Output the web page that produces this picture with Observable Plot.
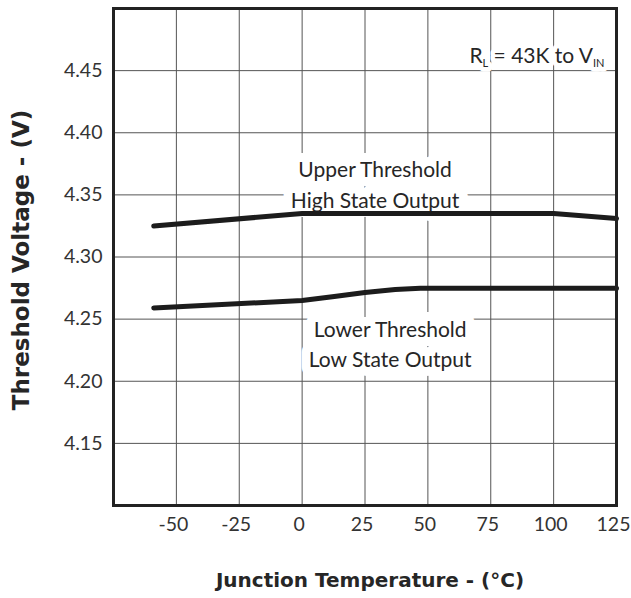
<!DOCTYPE html>
<html><head><meta charset="utf-8">
<script src="https://cdn.jsdelivr.net/npm/d3@7"></script>
<script src="https://cdn.jsdelivr.net/npm/@observablehq/plot@0.6"></script>
<style>body{margin:0;background:#fff} svg{display:block}</style>
</head><body><div id="chart"></div>
<script>
const xTicks = [-50, -25, 0, 25, 50, 75, 100, 125];
const yTicks = [4.15, 4.20, 4.25, 4.30, 4.35, 4.40, 4.45];
const upperTemp = [-59, 0, 100, 125];
const upperVolt = [4.325, 4.335, 4.335, 4.331];
const lowerTemp = [-59, 0, 12, 25, 37, 47, 125];
const lowerVolt = [4.259, 4.265, 4.268, 4.2715, 4.2738, 4.2748, 4.2748];
const labelTemp = [29, 35];
const labelVolt = [4.3596, 4.2316];
const labelText = ["Upper Threshold\nHigh State Output", "Lower Threshold\nLow State Output"];
const rlText = "RL = 43K to VIN";
const xTitle = "Junction Temperature - (°C)";
const yTitle = "Threshold Voltage - (V)";

const upper = upperTemp.map((t, i) => ({t, v: upperVolt[i]}));
const lower = lowerTemp.map((t, i) => ({t, v: lowerVolt[i]}));
const labels = labelText.map((s, i) => ({t: labelTemp[i], v: labelVolt[i], s}));

const ink = "#262626";
const titleFont = "'DejaVu Sans', sans-serif";
const chart = Plot.plot({
  width: 631, height: 598,
  marginLeft: 113, marginRight: 15, marginTop: 8, marginBottom: 93,
  style: {fontFamily: "Lato, sans-serif", fontSize: "19.5px", color: "#333", background: "#fff"},
  x: {domain: [-75, 125], ticks: xTicks, tickSize: 0, tickPadding: 12, label: null, tickFormat: d => String(d)},
  y: {domain: [4.10, 4.50], ticks: yTicks, tickSize: 0, tickPadding: 11, label: null, tickFormat: d3.format(".2f")},
  marks: [
    Plot.ruleX(xTicks, {stroke: "#555", strokeWidth: 1}),
    Plot.ruleY(yTicks, {stroke: "#555", strokeWidth: 1}),
    Plot.text(labels, {x: "t", y: "v", text: "s", fontSize: 21, fill: ink, stroke: "white", strokeWidth: 18, strokeLinejoin: "round", lineHeight: 1.45}),
    Plot.text([rlText], {frameAnchor: "top-right", textAnchor: "end", dx: -12, dy: 40, fontSize: 21, fill: "white", stroke: "white", strokeWidth: 9, strokeLinejoin: "round"}),
    Plot.line(upper, {x: "t", y: "v", stroke: "#1c1c1c", strokeWidth: 5}),
    Plot.line(lower, {x: "t", y: "v", stroke: "#1c1c1c", strokeWidth: 5}),
    Plot.frame({stroke: "#222", strokeWidth: 3}),
    Plot.text([yTitle], {frameAnchor: "left", textAnchor: "middle", lineAnchor: "middle", dx: -92, dy: 3, rotate: -90, fontFamily: titleFont, fontWeight: "bold", fontSize: 23, fill: ink}),
    Plot.text([xTitle], {frameAnchor: "bottom", textAnchor: "middle", lineAnchor: "middle", dx: 5, dy: 75, fontFamily: titleFont, fontWeight: "bold", fontSize: 20, fill: ink})
  ]
});
const svg = d3.select(chart);
svg.selectAll("text").filter(function() { return this.textContent === rlText; }).each(function() {
  const t = d3.select(this);
  t.text("");
  t.append("tspan").text("R");
  t.append("tspan").attr("font-size", 11).attr("dy", 4).text("L");
  t.append("tspan").attr("dy", -4).text(" = 43K to V");
  t.append("tspan").attr("font-size", 11).attr("dy", 4).text("IN");
  const clone = this.cloneNode(true);
  clone.setAttribute("fill", ink);
  clone.setAttribute("stroke", "none");
  this.parentNode.insertBefore(clone, this.nextSibling);
});
const xTickStrings = xTicks.map(String);
svg.selectAll("text").filter(function() { return xTickStrings.includes(this.textContent); }).attr("dx", -3);
document.getElementById("chart").append(chart);
</script>
</body></html>
